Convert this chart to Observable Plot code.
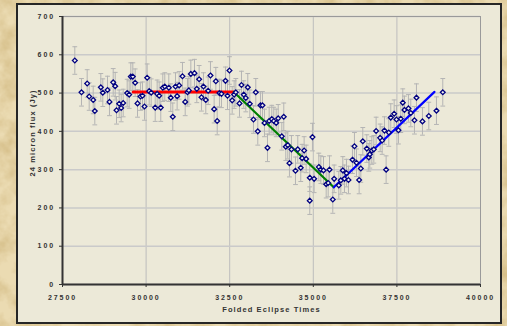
<!DOCTYPE html>
<html><head><meta charset="utf-8">
<script src="https://cdn.jsdelivr.net/npm/d3@7"></script>
<script src="https://cdn.jsdelivr.net/npm/@observablehq/plot@0.6"></script>
<style>
html,body{margin:0;padding:0;}
body{width:507px;height:326px;overflow:hidden;background:#EBDBB2;}
#wrap{position:relative;width:507px;height:326px;}
#tex{position:absolute;left:0;top:0;width:507px;height:326px;
background-image:url("data:image/svg+xml;utf8,<svg xmlns='http://www.w3.org/2000/svg' width='507' height='326'><filter id='n'><feTurbulence type='fractalNoise' baseFrequency='0.05' numOctaves='4' seed='7'/><feColorMatrix values='0 0 0 0 0.60  0 0 0 0 0.44  0 0 0 0 0.18  1.3 0 0 0 -0.45'/></filter><rect width='507' height='326' filter='url(%23n)'/></svg>");}
#panel{position:absolute;left:16px;top:3px;width:482px;height:317px;background:#ECE9D8;border:2px solid #262626;}
#chart{position:absolute;left:0;top:0;}
</style>
</head><body>
<div id="wrap"><div id="tex"></div><div id="panel"></div><div id="chart"></div></div>
<script>
const xTicks = [27500, 30000, 32500, 35000, 37500, 40000];
const yTicks = [0, 100, 200, 300, 400, 500, 600, 700];
const xTitle = "Folded Eclipse Times";
const yTitle = "24 micron flux (Jy)";

const foldTime = [
27868,28068,28238,28298,28418,28466,28646,28705,28846,28905,29016,29076,29115,29195,29255,29315,
29434,29494,29543,29603,29673,29743,29832,29892,29952,30032,30092,30152,30272,30331,30391,30439,
30499,30559,30679,30738,30798,30879,30928,30988,31088,31169,31238,31278,31338,31447,31516,31586,
31656,31716,31785,31856,31925,32035,32085,32126,32194,32254,32374,32434,32493,32574,32633,32683,
32793,32852,32921,32981,33041,33101,33211,33280,33340,33420,33480,33540,33630,33680,33759,33818,
33890,33950,34058,34117,34177,34237,34287,34347,34467,34536,34625,34666,34726,34786,34894,34894,
34975,35025,35165,35225,35305,35385,35445,35485,35583,35624,35763,35823,35883,35932,35992,36052,
36171,36231,36291,36371,36421,36480,36600,36660,36690,36750,36810,36879,36999,37059,37128,37178,
37258,37317,37418,37487,37546,37616,37676,37726,37845,37915,38025,38085,38264,38454,38683,38872
];
const flux = [
585,502,525,491,482,453,515,501,508,477,528,518,455,472,461,474,
500,496,543,543,527,473,491,493,465,540,505,501,462,498,493,462,
514,517,514,488,438,517,492,520,544,477,502,507,550,552,511,536,
489,517,482,506,546,458,531,427,500,498,532,493,559,481,496,502,
473,521,496,487,515,472,431,502,400,468,468,422,357,427,432,427,
422,434,387,438,360,364,317,353,297,353,305,330,350,328,279,219,
385,276,307,300,298,262,265,300,222,276,259,272,298,276,291,273,
326,361,318,273,303,374,355,332,340,350,353,401,383,376,402,300,
397,436,446,431,403,433,475,456,460,448,429,488,426,440,454,502
];
const fluxErr = 36;

const redFitX = [29613, 32622];
const redFitY = [503, 503];
const greenFitX = [32622, 35613];
const greenFitY = [503, 254];
const blueFitX = [35613, 38624];
const blueFitY = [254, 503];

const lower = flux.map(v => v - fluxErr);
const upper = flux.map(v => v + fluxErr);
const capSymbol = {draw(ctx, size) { const r = Math.sqrt(size / Math.PI); ctx.moveTo(-r, 0); ctx.lineTo(r, 0); }};
const errColor = "#B4B4B4";

const chart = Plot.plot({
  width: 507, height: 326,
  marginLeft: 62, marginRight: 27, marginTop: 16, marginBottom: 42,
  style: {background: "transparent", fontFamily: "'Liberation Sans', Arial, sans-serif", fontSize: "7px", fontWeight: "bold", color: "#333", letterSpacing: "1.9px"},
  x: {domain: [xTicks[0], xTicks[xTicks.length - 1]]},
  y: {domain: [yTicks[0], yTicks[yTicks.length - 1]]},
  marks: [
    Plot.gridX(xTicks, {stroke: "#BDBDBD", strokeOpacity: 1, strokeWidth: 1}),
    Plot.gridY(yTicks, {stroke: "#CACACA", strokeOpacity: 1, strokeWidth: 1.5}),
    Plot.frame({stroke: "#9A9A9A", strokeWidth: 1}),
    Plot.ruleX([xTicks[0]], {stroke: "#333", strokeWidth: 2}),
    Plot.ruleY([yTicks[0]], {stroke: "#333", strokeWidth: 2}),
    Plot.axisX(xTicks, {tickSize: 3, tickPadding: 8, label: null, tickFormat: d => String(d), stroke: "#333"}),
    Plot.axisY(yTicks, {tickSize: 3, tickPadding: 4.5, label: null, tickFormat: d => String(d), stroke: "#333"}),
    Plot.ruleX(flux, {x: foldTime, y1: lower, y2: upper, stroke: errColor, strokeWidth: 1}),
    Plot.dot(flux, {x: foldTime, y: upper, symbol: capSymbol, r: 2.4, stroke: errColor, fill: "none", strokeWidth: 1}),
    Plot.dot(flux, {x: foldTime, y: lower, symbol: capSymbol, r: 2.4, stroke: errColor, fill: "none", strokeWidth: 1}),
    Plot.line(redFitY, {x: redFitX, y: redFitY, stroke: "#FF0000", strokeWidth: 3}),
    Plot.line(greenFitY, {x: greenFitX, y: greenFitY, stroke: "#008000", strokeWidth: 2.2}),
    Plot.line(blueFitY, {x: blueFitX, y: blueFitY, stroke: "#0000FF", strokeWidth: 2.2}),
    Plot.dot(flux, {x: foldTime, y: flux, symbol: "diamond2", r: 2.15, stroke: "#000080", strokeWidth: 1.3, fill: "#F4F3EC"}),
    Plot.text([xTitle], {text: d => d, frameAnchor: "bottom", dy: 27, fontSize: 7.5, fontWeight: "bold", fill: "#333"}),
    Plot.text([yTitle], {text: d => d, frameAnchor: "left", rotate: -90, dx: -30, dy: 26, fontSize: 7.5, fontWeight: "bold", fill: "#333"})
  ]
});
d3.select(chart).selectAll("text").filter(function() { return this.textContent === xTitle || this.textContent === yTitle; }).style("letter-spacing", "1.1px");
document.getElementById("chart").appendChild(chart);
</script>
</body></html>
